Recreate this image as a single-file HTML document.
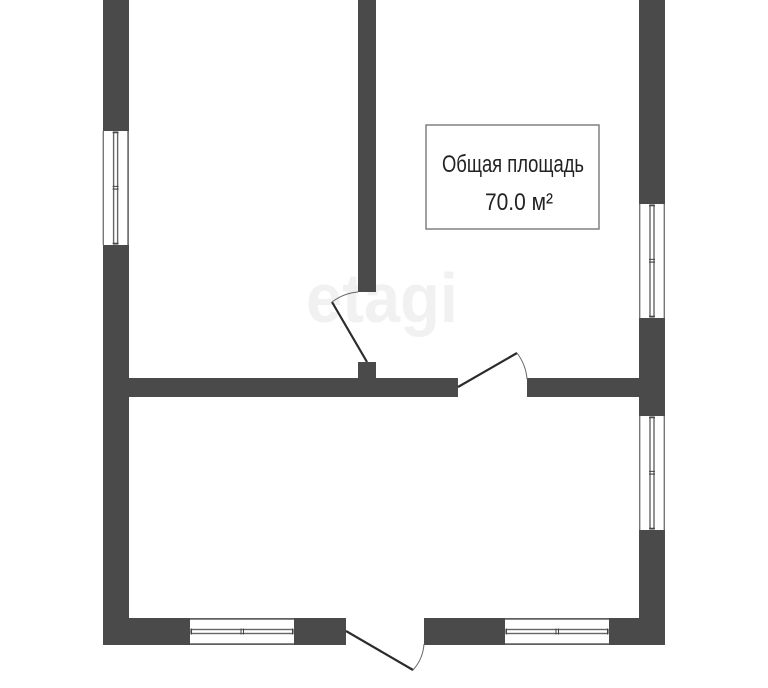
<!DOCTYPE html>
<html>
<head>
<meta charset="utf-8">
<style>
html,body{margin:0;padding:0;background:#fff;width:768px;height:688px;overflow:hidden}
svg{display:block}
text{font-family:"Liberation Sans Narrow","Liberation Sans",sans-serif}
</style>
</head>
<body>
<svg width="768" height="688" viewBox="0 0 768 688" xmlns="http://www.w3.org/2000/svg">
<defs>
<g id="w">
  <rect x="0" y="0" width="104" height="26" fill="#fff"/>
  <path d="M0 .7H104M0 25.3H104" stroke="#777" stroke-width="1.4" fill="none"/>
  <rect x="1" y="11" width="102" height="4" fill="#fff" stroke="#666" stroke-width="1.4"/>
  <path d="M1.500 10V16M51 10V16M53.500 10V16M102.500 10V16" stroke="#444" stroke-width="1"/>
</g>
</defs>
<rect width="768" height="688" fill="#fff"/>
<text x="306" y="322" font-size="70" font-weight="700" fill="#f1f1f1" style="font-family:'Liberation Sans',sans-serif" textLength="152" lengthAdjust="spacingAndGlyphs">etagi</text>
<g fill="#4a4a4a">
  <rect x="103" y="0" width="26" height="645"/>
  <rect x="639" y="0" width="26" height="645"/>
  <rect x="103" y="618" width="243" height="27"/>
  <rect x="424" y="618" width="241" height="27"/>
  <rect x="129" y="378" width="329" height="19"/>
  <rect x="527" y="378" width="112" height="19"/>
  <rect x="358" y="0" width="18" height="292"/>
  <rect x="358" y="362" width="18" height="16"/>
</g>
<!-- left window -->
<g transform="translate(102.600,245) rotate(-90)"><use href="#w" transform="scale(1.096,1)"/></g>
<!-- right windows -->
<g transform="translate(639,318) rotate(-90)"><use href="#w" transform="scale(1.096,1)"/></g>
<g transform="translate(639,530) rotate(-90)"><use href="#w" transform="scale(1.096,1)"/></g>
<!-- bottom windows -->
<use href="#w" transform="translate(190,618.500)"/>
<use href="#w" transform="translate(505,618.500)"/>
<!-- doors -->
<g fill="none">
  <path d="M367 362L332 302" stroke="#2b2b2b" stroke-width="2.200"/>
  <path d="M332 302Q344 293 358 292" stroke="#666" stroke-width="1"/>
  <path d="M458 387L517 353" stroke="#2b2b2b" stroke-width="2.200"/>
  <path d="M517 353Q526 365 527 379" stroke="#666" stroke-width="1"/>
  <path d="M346 631L413 670" stroke="#2b2b2b" stroke-width="2.200"/>
  <path d="M413 670Q423 659 424 644" stroke="#666" stroke-width="1"/>
</g>
<!-- label -->
<rect x="426" y="125" width="173" height="104" fill="#fff" stroke="#777" stroke-width="1.400"/>
<text x="442" y="172" font-size="24" fill="#222" textLength="142" lengthAdjust="spacingAndGlyphs">Общая площадь</text>
<text x="485" y="210" font-size="24" fill="#222" textLength="68" lengthAdjust="spacingAndGlyphs">70.0 м²</text>
</svg>
</body>
</html>
